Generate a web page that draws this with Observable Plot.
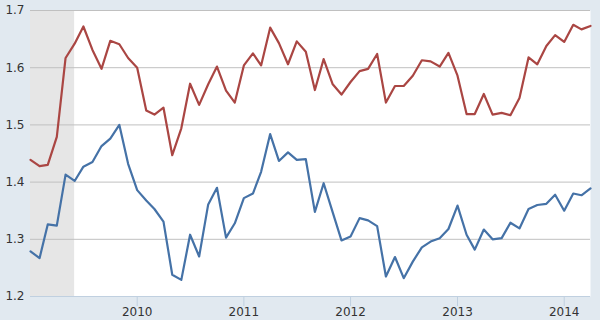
<!DOCTYPE html>
<html>
<head>
<meta charset="utf-8">
<script src="https://cdn.jsdelivr.net/npm/d3@7"></script>
<script src="https://cdn.jsdelivr.net/npm/@observablehq/plot@0.6"></script>
<style>
  html, body { margin: 0; padding: 0; background: #e1e9f0; }
  #chart svg { display: block; }
</style>
</head>
<body>
<div id="chart"></div>
<script>
// Monthly dates, Jan 2009 – Apr 2014
const startMonth = "2009-01";
const redValues = [
  1.439, 1.428, 1.430, 1.479, 1.617, 1.642, 1.672, 1.631, 1.598, 1.647, 1.641, 1.617,
  1.600, 1.525, 1.518, 1.530, 1.447, 1.494, 1.572, 1.535, 1.571, 1.602, 1.560, 1.539,
  1.604, 1.625, 1.604, 1.670, 1.643, 1.606, 1.646, 1.628, 1.561, 1.615, 1.571, 1.553,
  1.575, 1.594, 1.598, 1.624, 1.539, 1.568, 1.568, 1.586, 1.613, 1.611, 1.602, 1.626,
  1.586, 1.519, 1.519, 1.554, 1.518, 1.521, 1.517, 1.547, 1.618, 1.606, 1.638, 1.657,
  1.645, 1.675, 1.667, 1.673
];
const blueValues = [
  1.279, 1.267, 1.326, 1.324, 1.413, 1.402, 1.427, 1.435, 1.463, 1.476, 1.500, 1.432,
  1.386, 1.368, 1.353, 1.331, 1.238, 1.229, 1.308, 1.270, 1.361, 1.390, 1.303, 1.328,
  1.372, 1.380, 1.418, 1.484, 1.437, 1.452, 1.439, 1.440, 1.348, 1.398, 1.347, 1.298,
  1.305, 1.337, 1.333, 1.323, 1.235, 1.269, 1.232, 1.261, 1.286, 1.296, 1.302, 1.318,
  1.359, 1.308, 1.282, 1.317, 1.300, 1.302, 1.329, 1.319, 1.353, 1.360, 1.362, 1.378,
  1.350, 1.380, 1.377, 1.389
];
const recessionStart = ["2009-01-01"];
const recessionEnd = ["2009-06-01"];
const yTicks = [1.2, 1.3, 1.4, 1.5, 1.6, 1.7];
const xTickYears = [2010, 2011, 2012, 2013, 2014];

const parse = d3.utcParse("%Y-%m");
const t0 = parse(startMonth);
const dates = redValues.map((_, i) => d3.utcMonth.offset(t0, i));
const red = redValues.map((v, i) => ({date: dates[i], value: v}));
const blue = blueValues.map((v, i) => ({date: dates[i], value: v}));
const recessions = recessionStart.map((s, i) => ({start: new Date(s), end: new Date(recessionEnd[i])}));
const xTicks = xTickYears.map(y => new Date(Date.UTC(y, 0, 1)));

const chart = Plot.plot({
  width: 600,
  height: 320,
  marginTop: 10,
  marginBottom: 24,
  marginLeft: 30,
  marginRight: 10,
  style: {background: "#e1e9f0", fontFamily: "DejaVu Sans", fontSize: "12px", color: "#333"},
  x: {type: "utc", domain: [dates[0], dates[dates.length - 1]]},
  y: {domain: [1.2, 1.7]},
  marks: [
    Plot.frame({fill: "white", stroke: "none"}),
    Plot.rect(recessions, {x1: "start", x2: "end", fill: "#e6e6e6"}),
    Plot.ruleY(yTicks.slice(1), {stroke: "#c0c0c0", strokeWidth: 1}),
    Plot.ruleY([yTicks[0]], {stroke: "#c0d0e0", strokeWidth: 1}),
    Plot.axisY({ticks: yTicks, tickSize: 0, tickPadding: 6, tickFormat: d3.format(".1f"), fill: "#333", fontSize: 12, label: null}),
    Plot.axisX({ticks: xTicks, tickSize: 10, tickPadding: 1, tickFormat: d3.utcFormat("%Y"), stroke: "#c0d0e0", fill: "#333", fontSize: 12, label: null}),
    Plot.line(red, {x: "date", y: "value", stroke: "#aa4643", strokeWidth: 2.2}),
    Plot.line(blue, {x: "date", y: "value", stroke: "#4572a7", strokeWidth: 2.2})
  ]
});
document.getElementById("chart").appendChild(chart);
</script>
</body>
</html>
